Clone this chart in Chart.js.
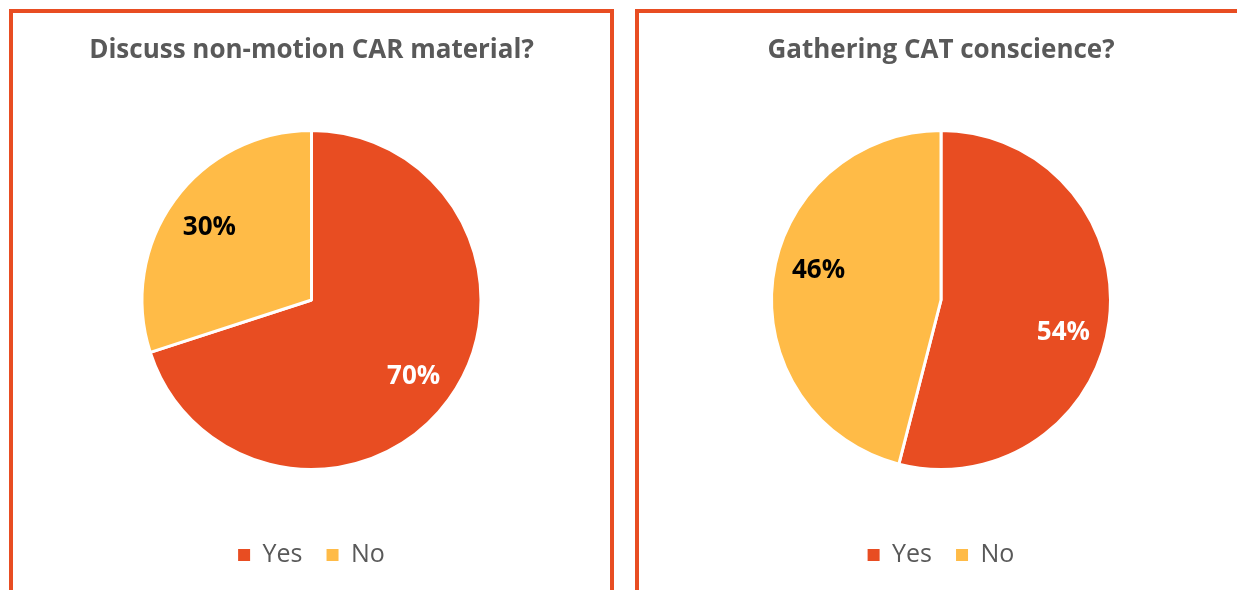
<!DOCTYPE html>
<html>
<head>
<meta charset="utf-8">
<script src="https://cdn.jsdelivr.net/npm/chart.js@4.4.1/dist/chart.umd.min.js"></script>
<style>
  html, body { margin: 0; padding: 0; background: #fff; overflow: hidden; }
  body { width: 1237px; height: 590px; position: relative; }
  .panel { position: absolute; top: 9px; height: 620px; border: 4px solid #E84D22; box-sizing: border-box; background: #fff; }
  #p1 { left: 9px; width: 605px; }
  #p2 { left: 635px; width: 612px; }
  .wrap { position: relative; width: 100%; height: 577px; }
</style>
</head>
<body>
<div class="panel" id="p1"><div class="wrap"><canvas id="c1"></canvas></div></div>
<div class="panel" id="p2"><div class="wrap"><canvas id="c2"></canvas></div></div>
<script>
const categories = ["Yes", "No"];
const titleLeft = "Discuss non-motion CAR material?";
const titleRight = "Gathering CAT conscience?";
const valuesLeft = [70, 30];
const valuesRight = [54, 46];

const sliceColors = ["#E84D22", "#FFBB47"];
const labelColors = ["#FFFFFF", "#000000"];

const pieLabels = {
  id: "pieLabels",
  afterDatasetsDraw(chart, args, opts) {
    const ctx = chart.ctx;
    const meta = chart.getDatasetMeta(0);
    const data = chart.data.datasets[0].data;
    const total = data.reduce((a, b) => a + b, 0);
    ctx.save();
    ctx.font = "bold 26px 'Open Sans'";
    ctx.textAlign = "center";
    ctx.textBaseline = "middle";
    meta.data.forEach((arc, i) => {
      const p = arc.getProps(["x", "y", "startAngle", "endAngle", "outerRadius"], true);
      const mid = (p.startAngle + p.endAngle) / 2 + (opts.angleOffset || 0) * Math.PI / 180;
      const r = p.outerRadius * 0.745;
      ctx.fillStyle = labelColors[i];
      ctx.fillText(Math.round(data[i] / total * 100) + "%", p.x + Math.cos(mid) * r, p.y + Math.sin(mid) * r + 2);
    });
    ctx.restore();
  }
};

function makePie(id, title, values, angleOffset) {
  return new Chart(document.getElementById(id), {
    type: "pie",
    data: {
      labels: categories,
      datasets: [{
        data: values,
        backgroundColor: sliceColors,
        borderColor: "#FFFFFF",
        borderWidth: 3,
        radius: 169.5
      }]
    },
    options: {
      responsive: true,
      maintainAspectRatio: false,
      animation: false,
      layout: { padding: { top: 0, bottom: 12.5, left: 0, right: 0 } },
      plugins: {
        tooltip: { enabled: false },
        title: {
          display: true,
          text: title,
          color: "#595959",
          font: { family: "'Open Sans'", size: 26, weight: "bold" },
          padding: { top: 22, bottom: 15.3 }
        },
        legend: {
          display: true,
          position: "bottom",
          labels: {
            color: "#595959",
            font: { family: "'Open Sans'", size: 25 },
            boxWidth: 12,
            boxHeight: 12,
            padding: 24,
            generateLabels: (chart) =>
              Chart.overrides.pie.plugins.legend.labels.generateLabels(chart)
                .map(item => Object.assign(item, { lineWidth: 0, strokeStyle: item.fillStyle }))
          }
        },
        pieLabels: { angleOffset: angleOffset }
      }
    },
    plugins: [pieLabels]
  });
}

makePie("c1", titleLeft, valuesLeft, 0);
makePie("c2", titleRight, valuesRight, 7);
</script>
</body>
</html>
